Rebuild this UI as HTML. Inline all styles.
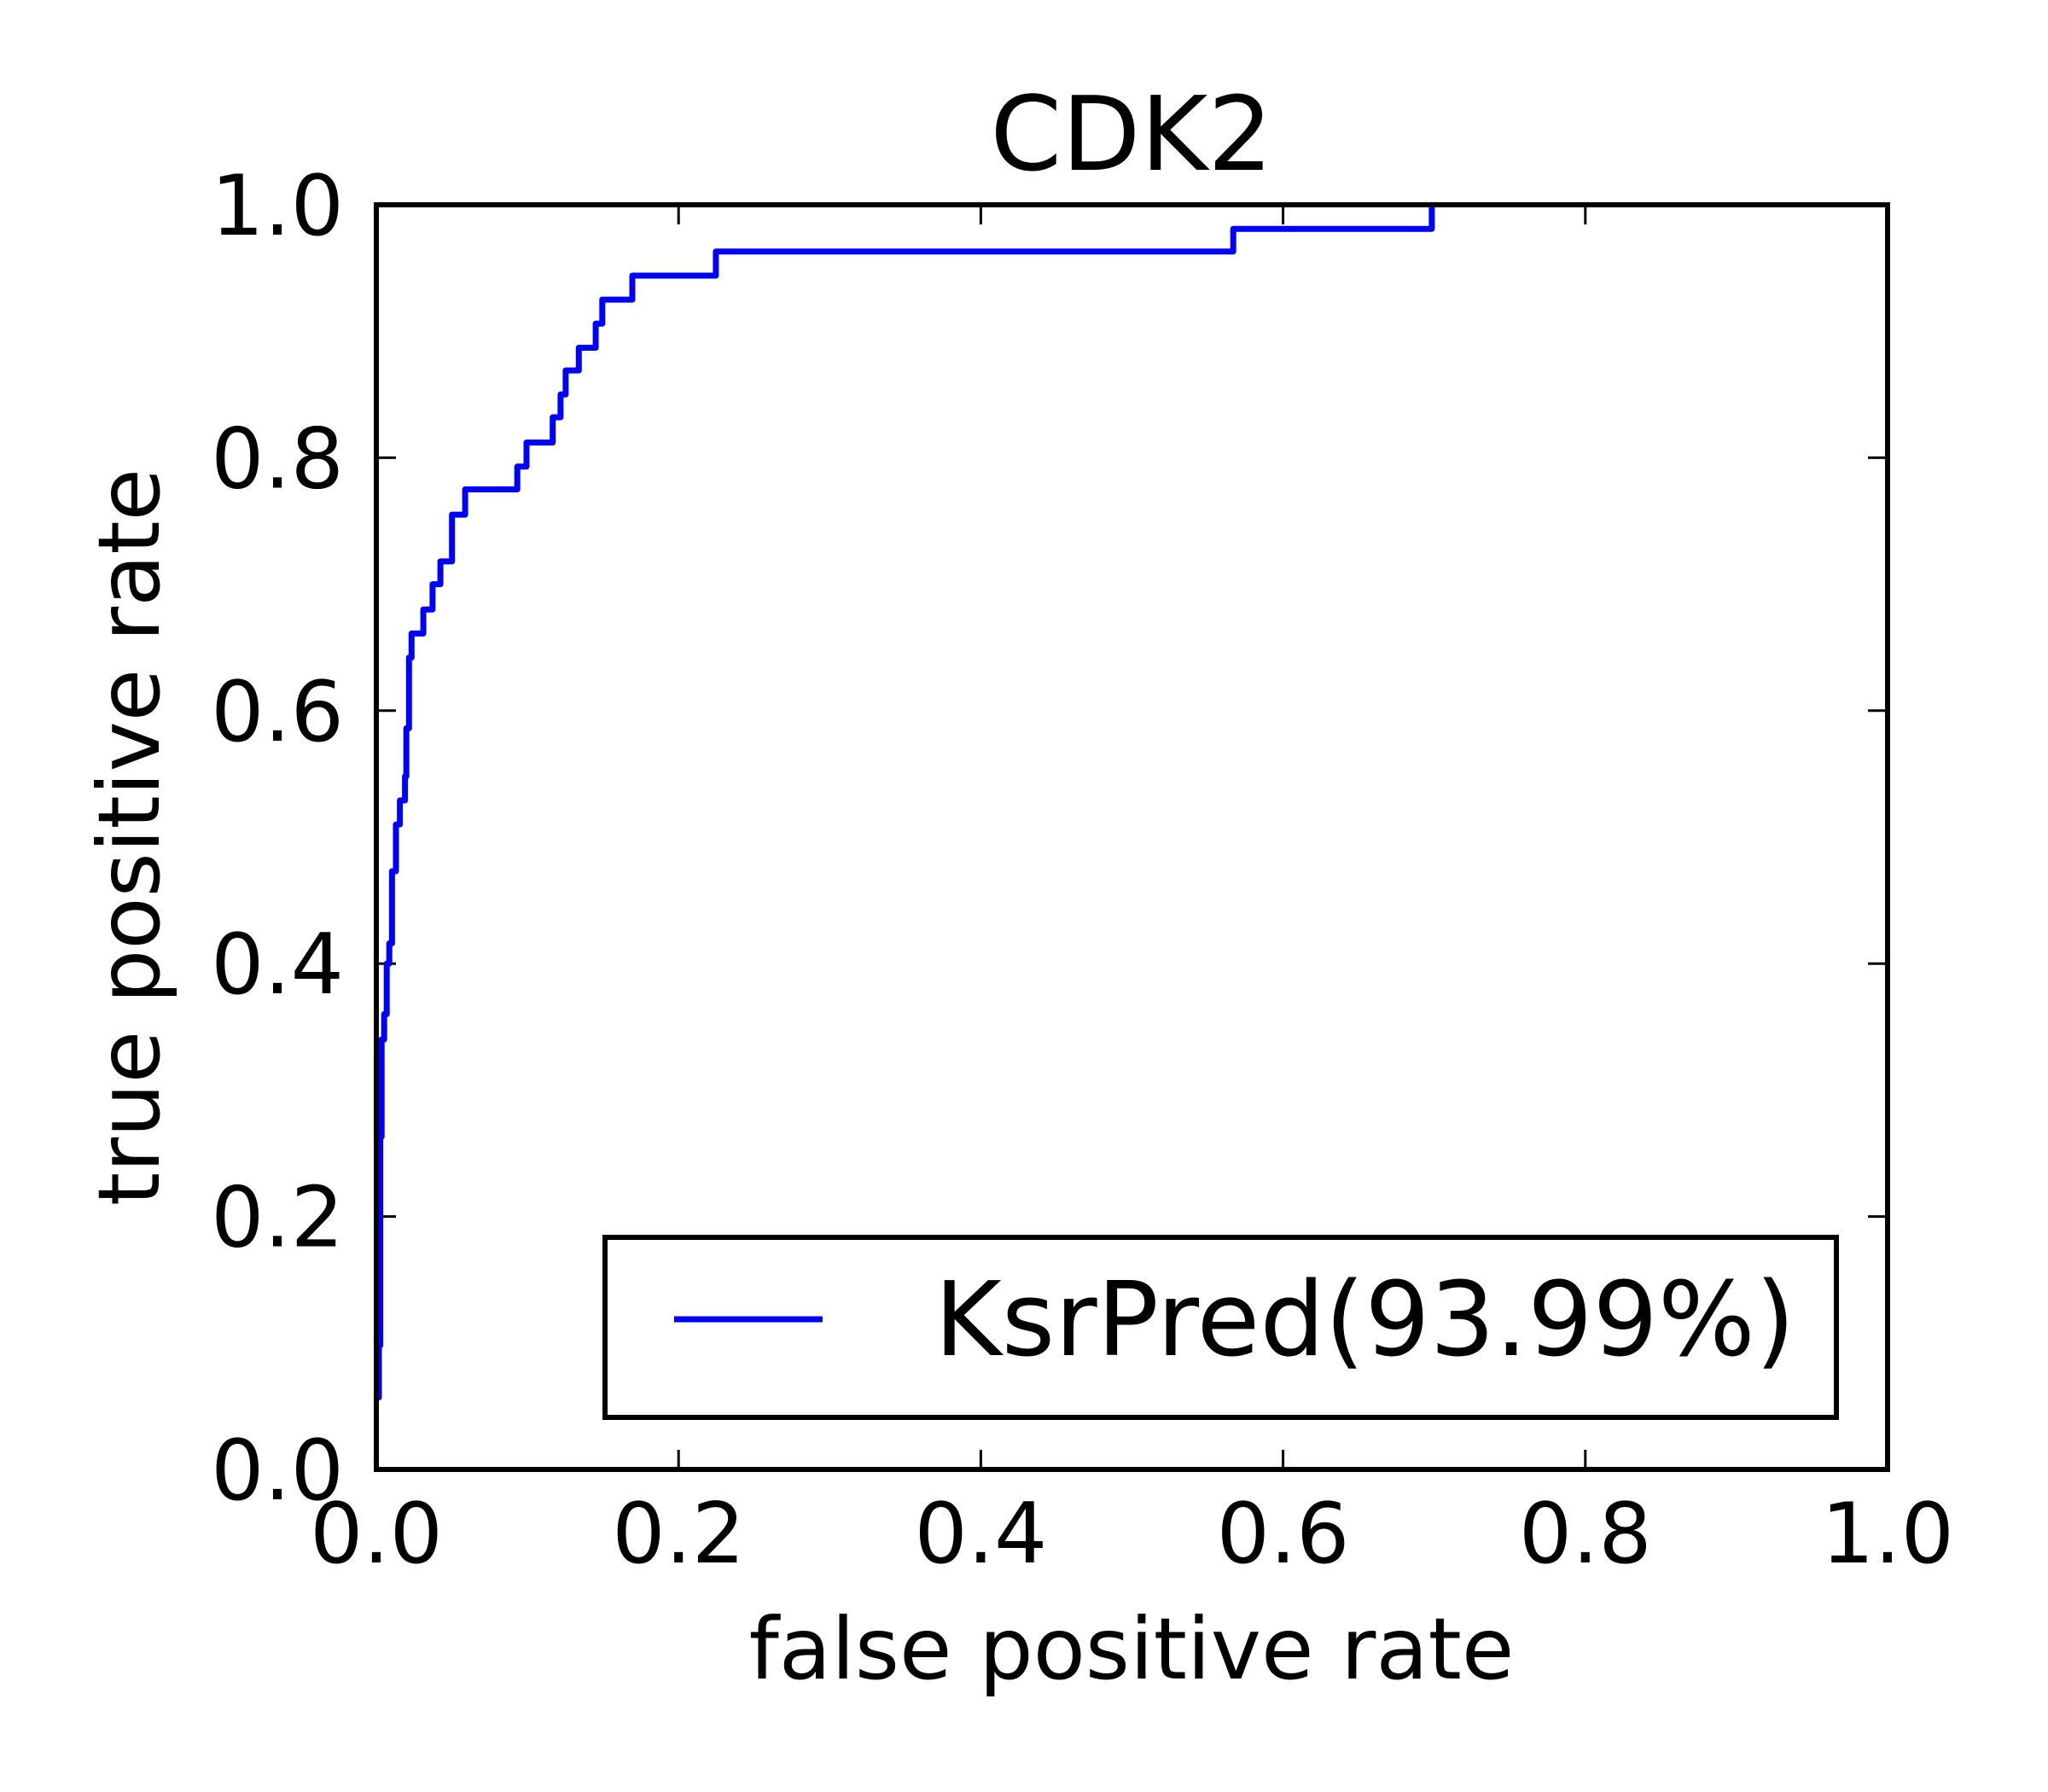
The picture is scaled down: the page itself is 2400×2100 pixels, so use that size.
<!DOCTYPE html>
<html><head><meta charset="utf-8"><style>
html,body{margin:0;padding:0;background:#fff;}
svg{display:block;font-family:"DejaVu Sans","Liberation Sans",sans-serif;}
</style></head><body>
<svg id="chart" width="2400" height="2100" viewBox="0 0 2400 2100">
<rect width="2400" height="2100" fill="#fff"/>
<g id="ticks"></g>
<path id="curve" fill="none" stroke="#0000ff" stroke-width="7" stroke-linejoin="round"/>
<rect x="441" y="240" width="1771" height="1482" fill="none" stroke="#000" stroke-width="6"/>
<text x="1326" y="199" font-size="120" text-anchor="middle">CDK2</text>
<text x="1326" y="1967" font-size="100" text-anchor="middle">false positive rate</text>
<text transform="translate(186,981) rotate(-90)" font-size="100" text-anchor="middle">true positive rate</text>
<g>
<rect x="709" y="1450" width="1443" height="211" fill="#fff" stroke="#000" stroke-width="6"/>
<line x1="790" y1="1546" x2="964" y2="1546" stroke="#0000ff" stroke-width="7"/>
<text x="1095" y="1588" font-size="120">KsrPred(93.99%)</text>
</g>
</svg>
<script>
const xTicks = [0, 0.2, 0.4, 0.6, 0.8, 1.0];
const yTicks = [0, 0.2, 0.4, 0.6, 0.8, 1.0];
const xTickLabels = ["0.0","0.2","0.4","0.6","0.8","1.0"];
const yTickLabels = ["0.0","0.2","0.4","0.6","0.8","1.0"];
const fpr = [0,0.0017,0.0017,0.0026,0.0026,0.0035,0.0035,0.0052,0.0052,0.0069,0.0069,0.0086,0.0086,0.0104,0.0104,0.013,0.013,0.0156,0.0156,0.019,0.019,0.0199,0.0199,0.0216,0.0216,0.0233,0.0233,0.0311,0.0311,0.0372,0.0372,0.0424,0.0424,0.0501,0.0501,0.0588,0.0588,0.0933,0.0933,0.0994,0.0994,0.1167,0.1167,0.1219,0.1219,0.1253,0.1253,0.134,0.134,0.1452,0.1452,0.1495,0.1495,0.1694,0.1694,0.2247,0.2247,0.567,0.567,0.6984,0.6984];
const tpr = [0.057,0.057,0.098,0.098,0.263,0.263,0.34,0.34,0.36,0.36,0.40,0.40,0.416,0.416,0.473,0.473,0.51,0.51,0.529,0.529,0.548,0.548,0.586,0.586,0.642,0.642,0.661,0.661,0.68,0.68,0.70,0.70,0.718,0.718,0.755,0.755,0.775,0.775,0.793,0.793,0.812,0.812,0.832,0.832,0.850,0.850,0.869,0.869,0.887,0.887,0.906,0.906,0.925,0.925,0.944,0.944,0.963,0.963,0.981,0.981,1.0];
const L=441,R=2212,T=240,B=1722;
function sx(v){return L+v*(R-L);}
function sy(v){return B-v*(B-T);}
const NS='http://www.w3.org/2000/svg';
const g=document.getElementById('ticks');
function mk(tag,attrs){const e=document.createElementNS(NS,tag);for(const k in attrs)e.setAttribute(k,attrs[k]);return e;}
xTicks.forEach((v,i)=>{
  const x=sx(v);
  const a=mk('line',{x1:x,y1:B,x2:x,y2:B-23,stroke:'#000','stroke-width':3});
  
  
  g.appendChild(a);
  const b=mk('line',{x1:x,y1:T,x2:x,y2:T+23,stroke:'#000','stroke-width':3});
  
  
  g.appendChild(b);
  const t=mk('text',{x:x,y:1831,'font-size':98,'text-anchor':'middle'});
  
  
  t.textContent=xTickLabels[i];g.appendChild(t);
});
yTicks.forEach((v,i)=>{
  const y=sy(v);
  const a=mk('line',{x1:L,y1:y,x2:L+23,y2:y,stroke:'#000','stroke-width':3});
  
  
  g.appendChild(a);
  const b=mk('line',{x1:R,y1:y,x2:R-23,y2:y,stroke:'#000','stroke-width':3});
  
  
  g.appendChild(b);
  const t=mk('text',{x:403,y:y+35,'font-size':98,'text-anchor':'end'});
  
  
  t.textContent=yTickLabels[i];g.appendChild(t);
});
let d='';
fpr.forEach((v,i)=>{d+=(i?'L':'M')+sx(v).toFixed(1)+','+sy(tpr[i]).toFixed(1);});
document.getElementById('curve').setAttribute('d',d);
</script>
</body></html>
